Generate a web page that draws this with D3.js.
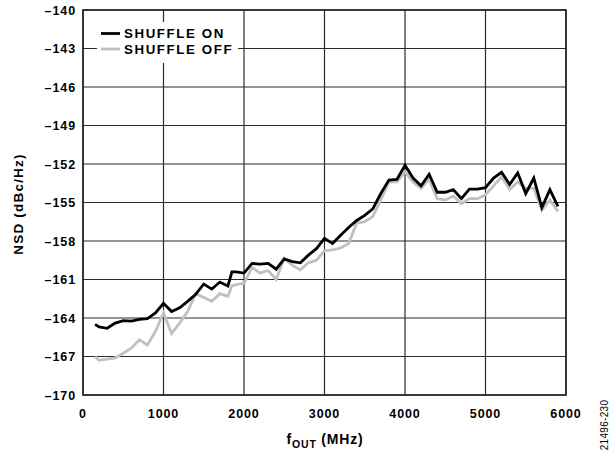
<!DOCTYPE html>
<html><head><meta charset="utf-8">
<script src="https://cdn.jsdelivr.net/npm/d3@7/dist/d3.min.js"></script>
<style>body{margin:0;background:#fff;} svg{display:block;} text{font-family:"Liberation Sans",Arial,sans-serif;}</style>
</head><body><svg id="c" width="615" height="452"></svg>
<script>
const freq = [150,200,300,400,500,600,700,800,900,1000,1100,1200,1300,1400,1500,1600,1700,1800,1850,1900,2000,2100,2200,2300,2400,2500,2600,2700,2800,2900,3000,3100,3200,3300,3400,3500,3600,3700,3800,3900,4000,4100,4200,4300,4400,4500,4600,4700,4800,4900,5000,5100,5200,5300,5400,5500,5600,5700,5800,5900];
const shuffleOn = [-164.5,-164.7,-164.8,-164.4,-164.2,-164.25,-164.1,-164.05,-163.6,-162.85,-163.5,-163.2,-162.7,-162.15,-161.35,-161.75,-161.2,-161.5,-160.4,-160.4,-160.5,-159.75,-159.8,-159.75,-160.2,-159.4,-159.6,-159.7,-159.1,-158.6,-157.8,-158.2,-157.55,-156.95,-156.4,-156.0,-155.5,-154.3,-153.25,-153.2,-152.1,-153.1,-153.7,-152.8,-154.2,-154.2,-154.0,-154.7,-153.95,-153.95,-153.85,-153.1,-152.65,-153.6,-152.7,-154.3,-153.1,-155.4,-154.0,-155.3];
const shuffleOff = [-167.0,-167.3,-167.2,-167.1,-166.75,-166.35,-165.7,-166.1,-165.05,-163.6,-165.2,-164.4,-163.5,-162.1,-162.4,-162.7,-162.1,-162.3,-161.5,-161.4,-161.3,-160.05,-160.5,-160.3,-161.0,-159.35,-159.9,-160.25,-159.7,-159.5,-158.75,-158.7,-158.55,-158.2,-156.6,-156.5,-156.1,-154.8,-153.4,-153.4,-152.6,-153.4,-153.9,-153.2,-154.7,-154.8,-154.5,-155.1,-154.7,-154.7,-154.4,-153.7,-153.0,-154.0,-153.4,-153.9,-153.9,-155.6,-154.8,-155.7];
const xTicks = [0,1000,2000,3000,4000,5000,6000];
const yTicks = [-140,-143,-146,-149,-152,-155,-158,-161,-164,-167,-170];
const seriesNames = ["SHUFFLE ON","SHUFFLE OFF"];
const seriesColors = ["#000000","#c0c0c0"];

const svg = d3.select("#c");
const L=83, R=566, T=10, B=395;
const x = d3.scaleLinear().domain([0,6000]).range([L,R]);
const y = d3.scaleLinear().domain([-170,-140]).range([B,T]);

// grid
const g = svg.append("g");
g.selectAll(".hg").data(yTicks).join("line")
  .attr("x1",L).attr("x2",R).attr("y1",d=>y(d)).attr("y2",d=>y(d))
  .attr("stroke","#2a2a2a").attr("stroke-width",1.2);
g.selectAll(".vg").data(xTicks).join("line")
  .attr("y1",T).attr("y2",B).attr("x1",d=>x(d)).attr("x2",d=>x(d))
  .attr("stroke","#2a2a2a").attr("stroke-width",1.2);

// legend background
svg.append("rect").attr("x",97).attr("y",22).attr("width",141).attr("height",41).attr("fill","#fff");

// lines
const line = d3.line().x((d,i)=>x(freq[i])).y(d=>y(d));
svg.append("path").datum(shuffleOff).attr("d",line).attr("fill","none")
  .attr("stroke",seriesColors[1]).attr("stroke-width",2.8);
svg.append("path").datum(shuffleOn).attr("d",line).attr("fill","none")
  .attr("stroke",seriesColors[0]).attr("stroke-width",2.8);

// frame
svg.append("rect").attr("x",L).attr("y",T).attr("width",R-L).attr("height",B-T)
  .attr("fill","none").attr("stroke","#222").attr("stroke-width",1.6);

// tick labels
svg.selectAll(".yl").data(yTicks).join("text")
  .attr("x",76).attr("y",d=>y(d)+4.5).attr("text-anchor","end")
  .attr("font-size","12.5px").attr("font-weight","bold").attr("letter-spacing","0.9px")
  .text(d=>"\u2013"+Math.abs(d));
svg.selectAll(".xl").data(xTicks).join("text")
  .attr("x",d=>x(d)).attr("y",417.5).attr("text-anchor","middle")
  .attr("font-size","12.5px").attr("font-weight","bold").attr("letter-spacing","0.9px")
  .text(d=>d);

// legend
seriesNames.forEach((n,i)=>{
  const yy = 33.5 + i*15.5;
  svg.append("line").attr("x1",101).attr("x2",120).attr("y1",yy).attr("y2",yy)
    .attr("stroke",seriesColors[i]).attr("stroke-width",2.8);
  svg.append("text").attr("x",124).attr("y",yy+4.8).attr("font-size","13.3px")
    .attr("font-weight","bold").attr("letter-spacing","1.6px").text(n);
});

// axis titles
svg.append("text").attr("transform","translate(23,204) rotate(-90)").attr("text-anchor","middle")
  .attr("font-size","13.5px").attr("font-weight","bold").attr("letter-spacing","1.2px").text("NSD (dBc/Hz)");
const xt = svg.append("text").attr("x",325).attr("y",444).attr("text-anchor","middle")
  .attr("font-size","14px").attr("font-weight","bold").attr("letter-spacing","0.8px");
xt.append("tspan").text("f");
xt.append("tspan").attr("dy",3.5).attr("font-size","10.5px").text("OUT");
xt.append("tspan").attr("dy",-3.5).text(" (MHz)");

svg.append("text").attr("transform","translate(608,425) rotate(-90)").attr("text-anchor","middle")
  .attr("font-size","10px").attr("letter-spacing","0.3px").text("21496-230");
</script></body></html>
